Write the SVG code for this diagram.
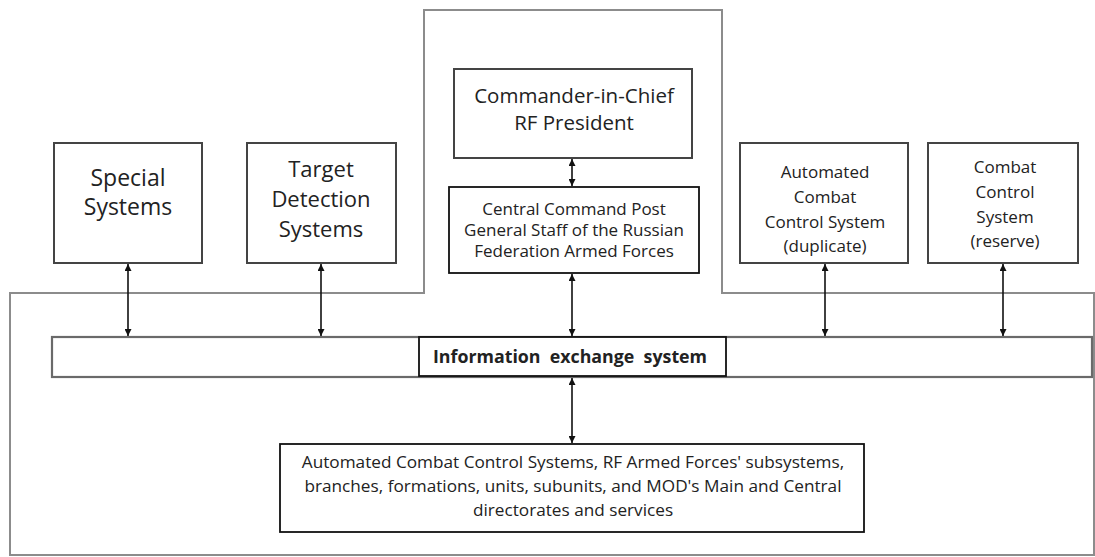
<svg xmlns="http://www.w3.org/2000/svg" width="1095" height="557" viewBox="0 0 1095 557">
<style>
  .outline { fill: none; stroke: #8c8c8c; stroke-width: 2; }
  .box { fill: #fff; stroke: #444; stroke-width: 2; }
  .kbox { fill: #fff; stroke: #111; stroke-width: 1.8; }
  .bar { fill: #fff; stroke: #6a6a6a; stroke-width: 2.2; }
  .t { font-family: "Open Sans", "Noto Sans", "Liberation Sans", sans-serif; fill: #222; text-anchor: middle; }
  .conn { stroke: #111; stroke-width: 1.6; fill: none; marker-start: url(#ah); marker-end: url(#ah); }
</style>
<defs>
  <marker id="ah" viewBox="0 0 10 10" refX="10" refY="5" markerWidth="7" markerHeight="7" markerUnits="userSpaceOnUse" orient="auto-start-reverse">
    <path d="M0,0 L10,5 L0,10 z" fill="#111"/>
  </marker>
</defs>
<rect width="1095" height="557" fill="#fff"/>
<g id="outline">
  <path class="outline" d="M10,555 L10,293 L424,293 L424,10 L722,10 L722,293 L1094,293 L1094,555 Z"/>
</g>
<g id="bar">
  <rect class="bar" x="52" y="337" width="1040" height="40"/>
</g>
<g id="special">
  <rect class="box" x="54" y="143" width="148" height="120"/>
  <text class="t" font-size="23"><tspan x="128" y="186">Special</tspan><tspan x="128" y="215">Systems</tspan></text>
</g>
<g id="target">
  <rect class="box" x="247" y="143" width="149" height="120"/>
  <text class="t" font-size="22"><tspan x="321" y="177">Target</tspan><tspan x="321" y="207">Detection</tspan><tspan x="321" y="237">Systems</tspan></text>
</g>
<g id="commander">
  <rect class="box" x="454" y="69" width="238" height="89"/>
  <text class="t" font-size="20.5"><tspan x="574" y="103">Commander-in-Chief</tspan><tspan x="574" y="130">RF President</tspan></text>
</g>
<g id="ccp">
  <rect class="kbox" x="449" y="187" width="250" height="86"/>
  <text class="t" font-size="17"><tspan x="574" y="215">Central Command Post</tspan><tspan x="574" y="236">General Staff of the Russian</tspan><tspan x="574" y="257">Federation Armed Forces</tspan></text>
</g>
<g id="acs">
  <rect class="box" x="740" y="143" width="168" height="120"/>
  <text class="t" font-size="17"><tspan x="825" y="178">Automated</tspan><tspan x="825" y="203">Combat</tspan><tspan x="825" y="228">Control System</tspan><tspan x="825" y="252">(duplicate)</tspan></text>
</g>
<g id="ccs">
  <rect class="box" x="928" y="143" width="150" height="120"/>
  <text class="t" font-size="17"><tspan x="1005" y="173">Combat</tspan><tspan x="1005" y="198">Control</tspan><tspan x="1005" y="223">System</tspan><tspan x="1005" y="247">(reserve)</tspan></text>
</g>
<g id="ies">
  <rect class="kbox" x="419" y="337" width="307" height="39"/>
  <text class="t" font-size="17.8" font-weight="bold" fill="#111" x="570" y="363" xml:space="preserve">Information  exchange  system</text>
</g>
<g id="acs-all">
  <rect class="kbox" x="280" y="444" width="584" height="88"/>
  <text class="t" font-size="17.2"><tspan x="573" y="468">Automated Combat Control Systems, RF Armed Forces' subsystems,</tspan><tspan x="573" y="492">branches, formations, units, subunits, and MOD's Main and Central</tspan><tspan x="573" y="516">directorates and services</tspan></text>
</g>
<g id="connectors">
  <line class="conn" x1="128" y1="264" x2="128" y2="336"/>
  <line class="conn" x1="321" y1="264" x2="321" y2="336"/>
  <line class="conn" x1="572" y1="274" x2="572" y2="336"/>
  <line class="conn" x1="825" y1="264" x2="825" y2="336"/>
  <line class="conn" x1="1003" y1="264" x2="1003" y2="336"/>
  <line class="conn" x1="572" y1="159" x2="572" y2="186"/>
  <line class="conn" x1="572" y1="378" x2="572" y2="443"/>
</g>
</svg>
